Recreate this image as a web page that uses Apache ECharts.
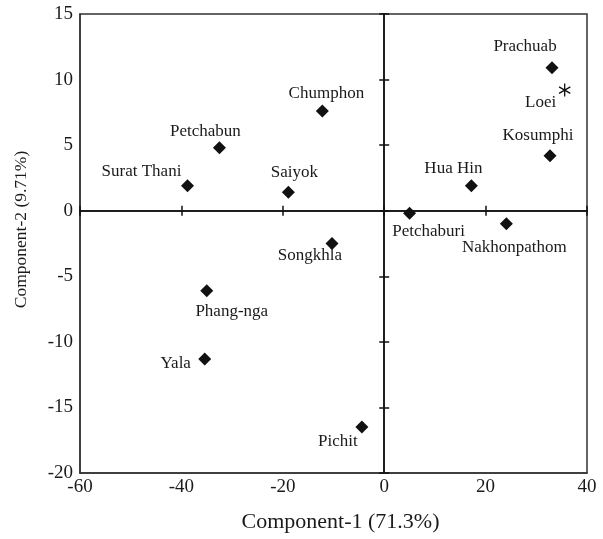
<!DOCTYPE html>
<html>
<head>
<meta charset="utf-8">
<script src="https://cdn.jsdelivr.net/npm/echarts@6/dist/echarts.min.js"></script>
<style>
html,body{margin:0;padding:0;background:#fff;}
#chart{width:603px;height:539px;}
</style>
</head>
<body>
<div id="chart"></div>
<script>
// ---- data ----
var siteNames = ['Surat Thani','Petchabun','Saiyok','Chumphon','Prachuab','Kosumphi','Hua Hin','Petchaburi','Nakhonpathom','Songkhla','Phang-nga','Yala','Pichit'];
var comp1 = [-38.8,-32.5,-18.9,-12.2,33.1,32.7,17.2,5.0,24.1,-10.3,-35.0,-35.4,-4.4];
var comp2 = [1.9,4.8,1.4,7.6,10.9,4.2,1.9,-0.2,-1.0,-2.5,-6.1,-11.3,-16.5];
var refName = ['Loei'];
var refComp1 = [35.6];
var refComp2 = [9.2];
var xTicks = [-60,-40,-20,0,20,40];
var yTicks = [-20,-15,-10,-5,0,5,10,15];

// ---- label placement (pixel offsets from marker centre) ----
var labelOffset = {
  'Surat Thani':[-46,-14], 'Petchabun':[-14,-16], 'Saiyok':[6,-20], 'Chumphon':[4,-18],
  'Prachuab':[-27,-21], 'Kosumphi':[-12,-20], 'Hua Hin':[-18,-17], 'Petchaburi':[19,18],
  'Nakhonpathom':[8,24], 'Songkhla':[-22,12], 'Phang-nga':[25,21], 'Yala':[-29,5],
  'Pichit':[-24,14], 'Loei':[-24,12]
};

var FONT = '"Liberation Serif", "Times New Roman", serif';
var lineColor = '#333';

function buildData(names, xs, ys) {
  return names.map(function (n, i) {
    return {
      name: n,
      value: [xs[i], ys[i]],
      label: { offset: labelOffset[n] || [0, 0] }
    };
  });
}

var xMin = xTicks[0], xMax = xTicks[xTicks.length - 1];
var yMin = yTicks[0], yMax = yTicks[yTicks.length - 1];
var xInt = xTicks[1] - xTicks[0], yInt = yTicks[1] - yTicks[0];

function baseAxis(min, max, interval) {
  return { type: 'value', min: min, max: max, interval: interval, splitLine: { show: false } };
}
function zeroAxis(min, max, interval, pos) {
  return Object.assign(baseAxis(min, max, interval), {
    position: pos,
    axisLine: { show: true, onZero: true, onZeroAxisIndex: 0, lineStyle: { color: '#111', width: 1.5 } },
    axisTick: { show: true, inside: false, length: 5, lineStyle: { color: '#111', width: 1.5 } },
    axisLabel: { show: false }
  });
}

var labelStyle = {
  show: true, position: 'inside', color: '#1a1a1a', opacity: 1,
  fontFamily: FONT, fontSize: 17, formatter: '{b}'
};

var option = {
  backgroundColor: '#fff',
  animation: false,
  grid: { left: 80, right: 16, top: 14, bottom: 66, show: true, borderColor: lineColor, borderWidth: 1.5, backgroundColor: 'transparent' },
  xAxis: [
    Object.assign(baseAxis(xMin, xMax, xInt), {
      position: 'bottom',
      name: 'Component-1 (71.3%)', nameLocation: 'middle', nameGap: 38,
      nameTextStyle: { fontFamily: FONT, fontSize: 22, color: '#1a1a1a', padding: [0, 0, 0, 14] },
      axisLine: { show: true, onZero: false, lineStyle: { color: lineColor, width: 1.5 } },
      axisTick: { show: false },
      axisLabel: { fontFamily: FONT, fontSize: 19, color: '#1a1a1a', margin: 5 }
    }),
    zeroAxis(xMin, xMax, xInt, 'bottom'),
    zeroAxis(xMin, xMax, xInt, 'top')
  ],
  yAxis: [
    Object.assign(baseAxis(yMin, yMax, yInt), {
      position: 'left',
      name: 'Component-2 (9.71%)', nameLocation: 'middle', nameGap: 50,
      nameTextStyle: { fontFamily: FONT, fontSize: 17.5, color: '#1a1a1a', padding: [0, 0, 0, 28] },
      axisLine: { show: true, onZero: false, lineStyle: { color: lineColor, width: 1.5 } },
      axisTick: { show: false },
      axisLabel: { fontFamily: FONT, fontSize: 19, color: '#1a1a1a', margin: 7 }
    }),
    zeroAxis(yMin, yMax, yInt, 'left'),
    zeroAxis(yMin, yMax, yInt, 'right')
  ],
  series: [
    {
      type: 'scatter', name: 'sites', xAxisIndex: 0, yAxisIndex: 0,
      symbol: 'diamond', symbolSize: 13,
      itemStyle: { color: '#111', opacity: 1 },
      label: labelStyle,
      data: buildData(siteNames, comp1, comp2)
    },
    {
      type: 'scatter', name: 'reference', xAxisIndex: 0, yAxisIndex: 0,
      symbol: 'path://M0,-6L0,6M-5.2,-3L5.2,3M-5.2,3L5.2,-3', symbolSize: 13, symbolKeepAspect: true,
      itemStyle: { color: 'none', borderColor: '#111', borderWidth: 1.3, opacity: 1 },
      label: labelStyle,
      data: buildData(refName, refComp1, refComp2)
    }
  ]
};

var chart = echarts.init(document.getElementById('chart'), null, { renderer: 'canvas' });
chart.setOption(option);
</script>
</body>
</html>
